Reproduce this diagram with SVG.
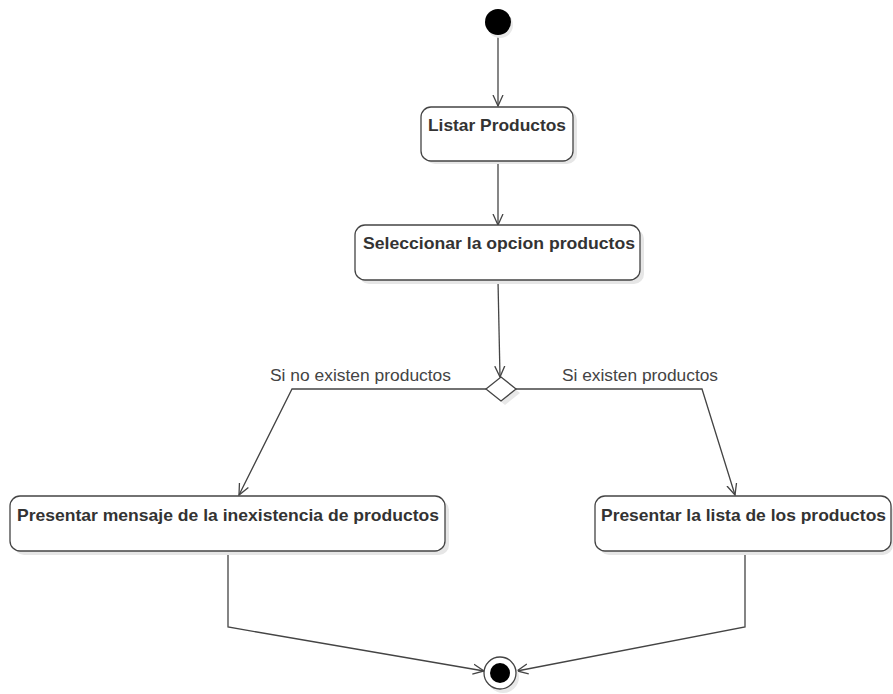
<svg xmlns="http://www.w3.org/2000/svg" width="893" height="694" viewBox="0 0 893 694">
<style>
.box{fill:#fff;stroke:#444;stroke-width:1.3}
.shadow{fill:#e6e6e6}
.lbl{font-family:"Liberation Sans",Arial,sans-serif;font-weight:bold;font-size:17px;fill:#333}
.guard{font-family:"Liberation Sans",Arial,sans-serif;font-size:16px;fill:#444}
.edge{fill:none;stroke:#444;stroke-width:1.3}
</style>
<defs>
<marker id="arr" viewBox="0 0 12 12" refX="11" refY="6" markerWidth="12" markerHeight="12" markerUnits="userSpaceOnUse" orient="auto">
<path d="M0,1 L11,6 L0,11" fill="none" stroke="#444" stroke-width="1.3"/>
</marker>
</defs>
<rect width="893" height="694" fill="#fff"/>
<g id="edges">
<line class="edge" x1="498" y1="35" x2="498" y2="106" marker-end="url(#arr)"/>
<line class="edge" x1="498" y1="161" x2="498" y2="225" marker-end="url(#arr)"/>
<line class="edge" x1="498" y1="281" x2="500" y2="377" marker-end="url(#arr)"/>
<polyline class="edge" points="486,389 292,389 239,495" marker-end="url(#arr)"/>
<polyline class="edge" points="516,389 702,389 735,495" marker-end="url(#arr)"/>
<polyline class="edge" points="228,551 228,627 484,671" marker-end="url(#arr)"/>
<polyline class="edge" points="745,551 745,627 517,671" marker-end="url(#arr)"/>
<text class="guard" x="270" y="381" textLength="181" lengthAdjust="spacingAndGlyphs">Si no existen productos</text>
<text class="guard" x="562" y="381" textLength="156" lengthAdjust="spacingAndGlyphs">Si existen productos</text>
</g>
<g id="start">
<circle cx="500" cy="25" r="13" fill="#e8e8e8"/>
<circle cx="498" cy="22" r="13" fill="#000"/>
</g>
<g id="listar">
<rect class="shadow" x="425" y="110" width="152" height="54" rx="10"/>
<rect class="box" x="421" y="107" width="152" height="54" rx="10"/>
<text class="lbl" x="428" y="131" textLength="138" lengthAdjust="spacingAndGlyphs">Listar Productos</text>
</g>
<g id="seleccionar">
<rect class="shadow" x="359" y="229" width="285" height="55" rx="10"/>
<rect class="box" x="355" y="225" width="285" height="55" rx="10"/>
<text class="lbl" x="363" y="249" textLength="272" lengthAdjust="spacingAndGlyphs">Seleccionar la opcion productos</text>
</g>
<g id="decision">
<path d="M505,381 L520,393 L505,405 L490,393 Z" fill="#e8e8e8"/>
<path d="M501,377 L516,389 L501,401 L486,389 Z" fill="#fff" stroke="#444" stroke-width="1.3"/>
</g>
<g id="mensaje">
<rect class="shadow" x="14" y="500" width="435" height="55" rx="10"/>
<rect class="box" x="10" y="496" width="435" height="55" rx="10"/>
<text class="lbl" x="17" y="521" textLength="422" lengthAdjust="spacingAndGlyphs">Presentar mensaje de la inexistencia de productos</text>
</g>
<g id="lista">
<rect class="shadow" x="599" y="500" width="294" height="55" rx="10"/>
<rect class="box" x="595" y="496" width="296" height="55" rx="10"/>
<text class="lbl" x="601" y="521" textLength="285" lengthAdjust="spacingAndGlyphs">Presentar la lista de los productos</text>
</g>
<g id="end">
<circle cx="503" cy="677" r="16" fill="#e8e8e8"/>
<circle cx="500" cy="673" r="16" fill="#fff" stroke="#444" stroke-width="1.3"/>
<circle cx="500" cy="673" r="10" fill="#000"/>
</g>
</svg>
